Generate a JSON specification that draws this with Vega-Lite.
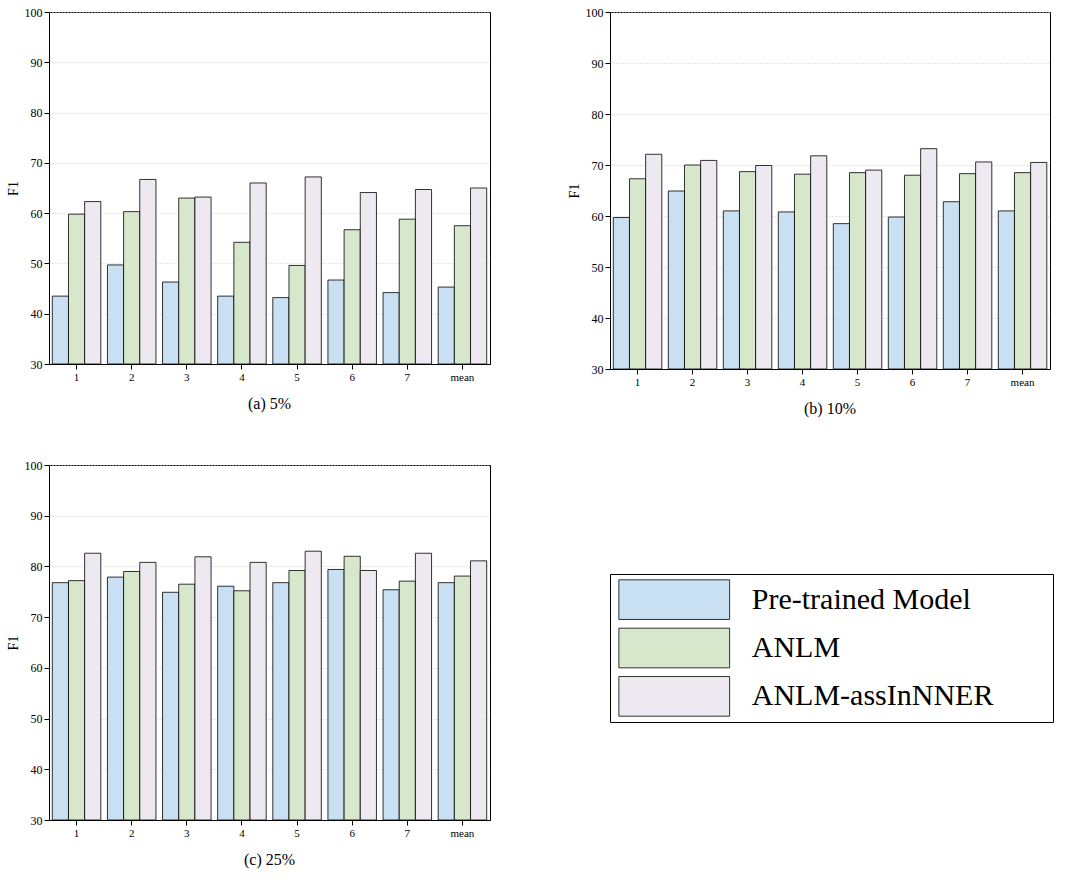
{
"$schema":"https://vega.github.io/schema/vega-lite/v6.json",
"background":"white",
"padding":{"left":5,"top":5,"right":5,"bottom":5},
"config":{"font":"Liberation Serif","view":{"stroke":"black","strokeWidth":1},
"axis":{"domainColor":"black","tickColor":"black","labelColor":"black","titleColor":"black","labelFont":"Liberation Serif","titleFont":"Liberation Serif","labelFontSize":12,"titleFontSize":14,"titleFontWeight":"normal"},
"title":{"font":"Liberation Serif","fontSize":16,"fontWeight":"normal","orient":"bottom","offset":14}},
"datasets":{"d":[
{"p":"a","g":"1","m":"Pre-trained Model","v":43.5},{"p":"a","g":"1","m":"ANLM","v":59.8},{"p":"a","g":"1","m":"ANLM-assInNNER","v":62.3},
{"p":"a","g":"2","m":"Pre-trained Model","v":49.7},{"p":"a","g":"2","m":"ANLM","v":60.3},{"p":"a","g":"2","m":"ANLM-assInNNER","v":66.7},
{"p":"a","g":"3","m":"Pre-trained Model","v":46.3},{"p":"a","g":"3","m":"ANLM","v":63.0},{"p":"a","g":"3","m":"ANLM-assInNNER","v":63.2},
{"p":"a","g":"4","m":"Pre-trained Model","v":43.5},{"p":"a","g":"4","m":"ANLM","v":54.2},{"p":"a","g":"4","m":"ANLM-assInNNER","v":66.0},
{"p":"a","g":"5","m":"Pre-trained Model","v":43.2},{"p":"a","g":"5","m":"ANLM","v":49.6},{"p":"a","g":"5","m":"ANLM-assInNNER","v":67.2},
{"p":"a","g":"6","m":"Pre-trained Model","v":46.7},{"p":"a","g":"6","m":"ANLM","v":56.7},{"p":"a","g":"6","m":"ANLM-assInNNER","v":64.1},
{"p":"a","g":"7","m":"Pre-trained Model","v":44.2},{"p":"a","g":"7","m":"ANLM","v":58.8},{"p":"a","g":"7","m":"ANLM-assInNNER","v":64.7},
{"p":"a","g":"mean","m":"Pre-trained Model","v":45.3},{"p":"a","g":"mean","m":"ANLM","v":57.5},{"p":"a","g":"mean","m":"ANLM-assInNNER","v":65.0},
{"p":"b","g":"1","m":"Pre-trained Model","v":59.7},{"p":"b","g":"1","m":"ANLM","v":67.3},{"p":"b","g":"1","m":"ANLM-assInNNER","v":72.1},
{"p":"b","g":"2","m":"Pre-trained Model","v":64.9},{"p":"b","g":"2","m":"ANLM","v":70.0},{"p":"b","g":"2","m":"ANLM-assInNNER","v":70.9},
{"p":"b","g":"3","m":"Pre-trained Model","v":61.0},{"p":"b","g":"3","m":"ANLM","v":68.7},{"p":"b","g":"3","m":"ANLM-assInNNER","v":69.9},
{"p":"b","g":"4","m":"Pre-trained Model","v":60.8},{"p":"b","g":"4","m":"ANLM","v":68.2},{"p":"b","g":"4","m":"ANLM-assInNNER","v":71.8},
{"p":"b","g":"5","m":"Pre-trained Model","v":58.5},{"p":"b","g":"5","m":"ANLM","v":68.5},{"p":"b","g":"5","m":"ANLM-assInNNER","v":69.0},
{"p":"b","g":"6","m":"Pre-trained Model","v":59.8},{"p":"b","g":"6","m":"ANLM","v":68.0},{"p":"b","g":"6","m":"ANLM-assInNNER","v":73.2},
{"p":"b","g":"7","m":"Pre-trained Model","v":62.8},{"p":"b","g":"7","m":"ANLM","v":68.3},{"p":"b","g":"7","m":"ANLM-assInNNER","v":70.6},
{"p":"b","g":"mean","m":"Pre-trained Model","v":61.0},{"p":"b","g":"mean","m":"ANLM","v":68.5},{"p":"b","g":"mean","m":"ANLM-assInNNER","v":70.5},
{"p":"c","g":"1","m":"Pre-trained Model","v":76.8},{"p":"c","g":"1","m":"ANLM","v":77.2},{"p":"c","g":"1","m":"ANLM-assInNNER","v":82.6},
{"p":"c","g":"2","m":"Pre-trained Model","v":77.9},{"p":"c","g":"2","m":"ANLM","v":79.0},{"p":"c","g":"2","m":"ANLM-assInNNER","v":80.8},
{"p":"c","g":"3","m":"Pre-trained Model","v":74.9},{"p":"c","g":"3","m":"ANLM","v":76.5},{"p":"c","g":"3","m":"ANLM-assInNNER","v":81.9},
{"p":"c","g":"4","m":"Pre-trained Model","v":76.1},{"p":"c","g":"4","m":"ANLM","v":75.2},{"p":"c","g":"4","m":"ANLM-assInNNER","v":80.8},
{"p":"c","g":"5","m":"Pre-trained Model","v":76.8},{"p":"c","g":"5","m":"ANLM","v":79.2},{"p":"c","g":"5","m":"ANLM-assInNNER","v":83.0},
{"p":"c","g":"6","m":"Pre-trained Model","v":79.4},{"p":"c","g":"6","m":"ANLM","v":82.0},{"p":"c","g":"6","m":"ANLM-assInNNER","v":79.2},
{"p":"c","g":"7","m":"Pre-trained Model","v":75.4},{"p":"c","g":"7","m":"ANLM","v":77.1},{"p":"c","g":"7","m":"ANLM-assInNNER","v":82.6},
{"p":"c","g":"mean","m":"Pre-trained Model","v":76.8},{"p":"c","g":"mean","m":"ANLM","v":78.1},{"p":"c","g":"mean","m":"ANLM-assInNNER","v":81.1}
],
"leg":[{"m":"Pre-trained Model"},{"m":"ANLM"},{"m":"ANLM-assInNNER"}]},
"hconcat":[
{"vconcat":[
{"data":{"name":"d"},"transform":[{"filter":"datum.p=='a'"}],"width":441,"height":352,"title":"(a) 5%",
"mark":{"type":"bar","stroke":"black","strokeWidth":0.8},
"encoding":{"x":{"field":"g","type":"nominal","title":null,"sort":null,"scale":{"paddingInner":0.12,"paddingOuter":0.06},"axis":{"labelAngle":0,"labelFontSize":11}},
"xOffset":{"field":"m","sort":["Pre-trained Model","ANLM","ANLM-assInNNER"]},
"y":{"field":"v","type":"quantitative","title":"F1","scale":{"domain":[30,100],"nice":false,"zero":false},"axis":{"tickCount":7,"grid":true,"gridDash":[1,2],"gridColor":"#ccc"}},
"y2":{"datum":30},
"color":{"field":"m","legend":null,"sort":["Pre-trained Model","ANLM","ANLM-assInNNER"],"scale":{"domain":["Pre-trained Model","ANLM","ANLM-assInNNER"],"range":["#c9e0f2","#d7e7cc","#eee8f0"]}}}},
{"data":{"name":"d"},"transform":[{"filter":"datum.p=='c'"}],"width":441,"height":355,"title":"(c) 25%",
"mark":{"type":"bar","stroke":"black","strokeWidth":0.8},
"encoding":{"x":{"field":"g","type":"nominal","title":null,"sort":null,"scale":{"paddingInner":0.12,"paddingOuter":0.06},"axis":{"labelAngle":0,"labelFontSize":11}},
"xOffset":{"field":"m","sort":["Pre-trained Model","ANLM","ANLM-assInNNER"]},
"y":{"field":"v","type":"quantitative","title":"F1","scale":{"domain":[30,100],"nice":false,"zero":false},"axis":{"tickCount":7,"grid":true,"gridDash":[1,2],"gridColor":"#ccc"}},
"y2":{"datum":30},
"color":{"field":"m","legend":null,"sort":["Pre-trained Model","ANLM","ANLM-assInNNER"],"scale":{"domain":["Pre-trained Model","ANLM","ANLM-assInNNER"],"range":["#c9e0f2","#d7e7cc","#eee8f0"]}}}}
],"spacing":45},
{"vconcat":[
{"data":{"name":"d"},"transform":[{"filter":"datum.p=='b'"}],"width":440,"height":357,"title":"(b) 10%",
"mark":{"type":"bar","stroke":"black","strokeWidth":0.8},
"encoding":{"x":{"field":"g","type":"nominal","title":null,"sort":null,"scale":{"paddingInner":0.12,"paddingOuter":0.06},"axis":{"labelAngle":0,"labelFontSize":11}},
"xOffset":{"field":"m","sort":["Pre-trained Model","ANLM","ANLM-assInNNER"]},
"y":{"field":"v","type":"quantitative","title":"F1","scale":{"domain":[30,100],"nice":false,"zero":false},"axis":{"tickCount":7,"grid":true,"gridDash":[1,2],"gridColor":"#ccc"}},
"y2":{"datum":30},
"color":{"field":"m","legend":null,"sort":["Pre-trained Model","ANLM","ANLM-assInNNER"],"scale":{"domain":["Pre-trained Model","ANLM","ANLM-assInNNER"],"range":["#c9e0f2","#d7e7cc","#eee8f0"]}}}},
{"data":{"name":"leg"},"width":443,"height":148,
"encoding":{"y":{"field":"m","type":"nominal","sort":null,"axis":null,"scale":{"paddingInner":0.18,"paddingOuter":0.12}}},
"layer":[
{"mark":{"type":"bar","stroke":"black","strokeWidth":0.8},
"encoding":{"x":{"datum":0.2,"type":"quantitative","scale":{"domain":[0,10]},"axis":null},"x2":{"datum":2.7},
"color":{"field":"m","legend":null,"scale":{"domain":["Pre-trained Model","ANLM","ANLM-assInNNER"],"range":["#c9e0f2","#d7e7cc","#eee8f0"]}}}},
{"mark":{"type":"text","align":"left","fontSize":30,"font":"Liberation Serif"},
"encoding":{"x":{"datum":3.2,"type":"quantitative"},"text":{"field":"m"}}}
]}
],"spacing":155}
],"spacing":75
}
